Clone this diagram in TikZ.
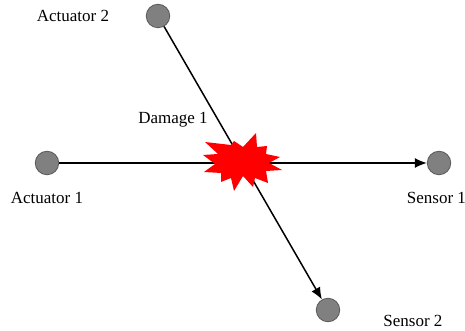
\documentclass[tikz,border=0pt]{standalone}
\usepackage{fontspec}
\setmainfont{Liberation Serif}
\definecolor{pz-gray}{RGB}{128,128,128}
\definecolor{pz-edge}{RGB}{90,90,90}
\usetikzlibrary{positioning,arrows.meta}

\begin{document}
\begin{tikzpicture}[x=1pt,y=1pt,on grid,
    transducer/.style={circle,fill=pz-gray,draw=pz-edge,line width=0.8pt,minimum size=23.5pt,inner sep=0pt},
    tag/.style={inner sep=0pt,font=\fontsize{17}{20}\selectfont},
    path-line/.style={line width=1.5pt,-{Latex[length=12pt,width=10pt]}}]
    \useasboundingbox (-242,-168) rectangle (223,163);
    \node [inner sep=0pt,minimum size=0pt] (dmg) {};
    \node [transducer, left=195 of dmg] (act1) {};
    \node [transducer, right=197 of dmg] (sen1) {};
    \node [transducer, above left=147 and 84 of dmg] (act2) {};
    \node [transducer, below right=147 and 86 of dmg] (sen2) {};
    \draw[path-line] (act1) -- (sen1);
    \draw[path-line] (act2) -- (sen2);
    \fill[red] (-37,21) -- (-11,18) -- (-8,22) -- (1,16) -- (14,30) -- (15,16) -- (25,17) -- (24,9) -- (38,6) -- (27,0) -- (40,-7) -- (24,-8) -- (26,-20) -- (13,-15) -- (11,-24) -- (1,-13) -- (-8,-28) -- (-11,-15) -- (-21,-19) -- (-21,-10) -- (-38,-9) -- (-27,-1) -- (-39,8) -- (-24,9) -- cycle;
    \node [tag, below=35 of act1] (lab-act1) {Actuator 1};
    \node [tag, left=85 of act2] (lab-act2) {Actuator 2};
    \node [tag, above left=43 and 69 of dmg] (lab-dmg) {Damage 1};
    \node [tag, below left=35 and 2.5 of sen1] (lab-sen1) {Sensor 1};
    \node [tag, below right=11 and 85 of sen2] (lab-sen2) {Sensor 2};
\end{tikzpicture}
\end{document}
